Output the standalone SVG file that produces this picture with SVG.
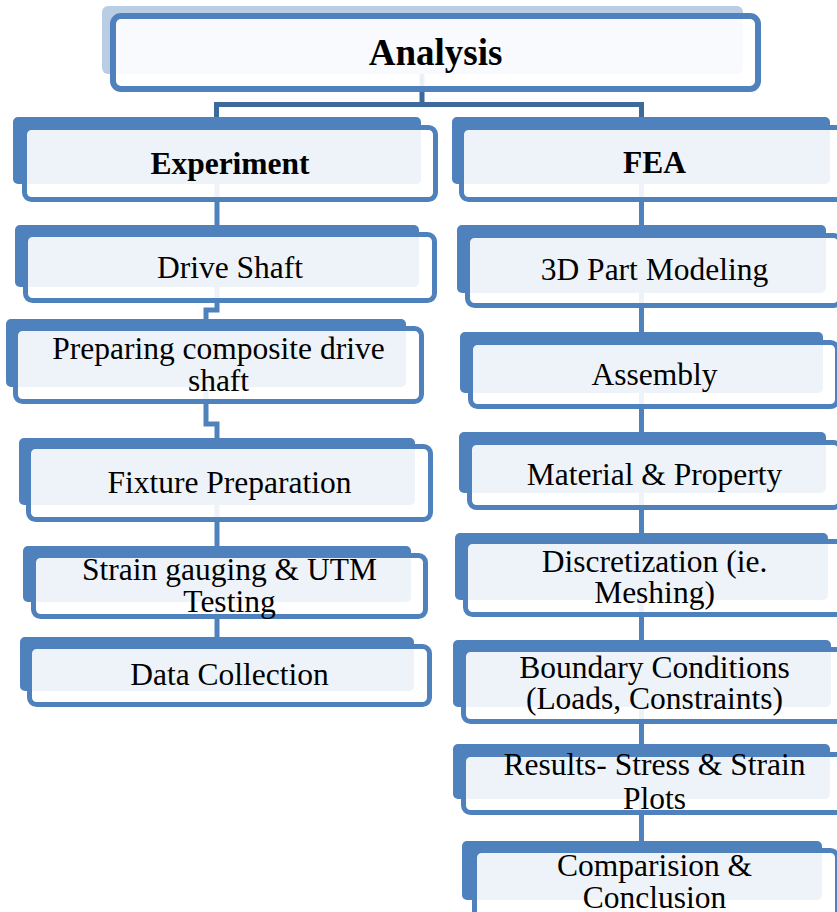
<svg xmlns="http://www.w3.org/2000/svg" width="837" height="912" viewBox="0 0 837 912">
<style>
.bk{fill:#4F81BD}
.bkl{fill:#4F81BD;fill-opacity:0.4}
.fr{fill:#FFFFFF;fill-opacity:0.9;stroke:#4F81BD;stroke-width:5}
.c{fill:none;stroke:#4F81BD;stroke-width:5}
.ct{fill:none;stroke:#3E6A9B;stroke-width:5}
text{font-family:"Liberation Serif","Times New Roman",serif;font-size:31.5px;fill:#000;text-anchor:middle}
.b{font-weight:bold}
</style>
<rect width="837" height="912" fill="#FFFFFF"/>
<g id="connectors">
<path class="ct" d="M422,74 V104.5 M216.5,117 V104.5 H641.5 V117"/>
<path class="c" d="M217,184 V225"/>
<path class="c" d="M217,287 V310 H206 V319"/>
<path class="c" d="M206,387 V424 H217 V438"/>
<path class="c" d="M217,505 V546"/>
<path class="c" d="M217,602 V637"/>
<path class="c" d="M641.5,184 V225"/>
<path class="c" d="M641.5,293 V332"/>
<path class="c" d="M641.5,393 V432"/>
<path class="c" d="M641.5,493 V533"/>
<path class="c" d="M641.5,600 V640"/>
<path class="c" d="M641.5,707 V744"/>
<path class="c" d="M641.5,799 V841"/>
</g>
<g id="analysis">
<rect class="bkl" x="102" y="6" width="641" height="68" rx="6"/>
<rect class="fr" x="113" y="16" width="645" height="73" rx="8" style="stroke-width:6"/>
<text class="b" x="435.5" y="65" style="font-size:37px">Analysis</text>
</g>
<g id="experiment">
<rect class="bk" x="13" y="117" width="408" height="67" rx="5"/>
<rect class="fr" x="24.5" y="127.5" width="411" height="72" rx="7"/>
<text class="b" x="230" y="174">Experiment</text>
</g>
<g id="drive-shaft">
<rect class="bk" x="15" y="225" width="404" height="62" rx="5"/>
<rect class="fr" x="25.5" y="234.5" width="409" height="66" rx="7"/>
<text x="230" y="278">Drive Shaft</text>
</g>
<g id="preparing">
<rect class="bk" x="6" y="319" width="400" height="68" rx="5"/>
<rect class="fr" x="15.5" y="328.5" width="406" height="73" rx="7"/>
<text x="218.5" y="359">Preparing composite drive</text>
<text x="218.5" y="391">shaft</text>
</g>
<g id="fixture">
<rect class="bk" x="19" y="438" width="396" height="67" rx="5"/>
<rect class="fr" x="28.5" y="446.5" width="402" height="73" rx="7"/>
<text x="229.5" y="493">Fixture Preparation</text>
</g>
<g id="strain">
<rect class="bk" x="23" y="546" width="388" height="56" rx="5"/>
<rect class="fr" x="33.5" y="555.5" width="392" height="61" rx="7"/>
<text x="229.5" y="580">Strain gauging &amp; UTM</text>
<text x="229.5" y="612">Testing</text>
</g>
<g id="data">
<rect class="bk" x="20" y="637" width="394" height="54" rx="5"/>
<rect class="fr" x="29.5" y="646.5" width="400" height="58" rx="7"/>
<text x="229.5" y="685">Data Collection</text>
</g>
<g id="fea">
<rect class="bk" x="452" y="117" width="378" height="67" rx="5"/>
<rect class="fr" x="461.5" y="127.5" width="386" height="72" rx="7"/>
<text class="b" x="654.5" y="173">FEA</text>
</g>
<g id="part-modeling">
<rect class="bk" x="457" y="225" width="369" height="68" rx="5"/>
<rect class="fr" x="467.5" y="235.5" width="373" height="70" rx="7"/>
<text x="654.5" y="280">3D Part Modeling</text>
</g>
<g id="assembly">
<rect class="bk" x="460" y="332" width="363" height="61" rx="5"/>
<rect class="fr" x="470.5" y="342.5" width="367" height="64" rx="7"/>
<text x="654.5" y="385">Assembly</text>
</g>
<g id="material">
<rect class="bk" x="459" y="432" width="367" height="61" rx="5"/>
<rect class="fr" x="469.5" y="442.5" width="371" height="65" rx="7"/>
<text x="654.5" y="485">Material &amp; Property</text>
</g>
<g id="discretization">
<rect class="bk" x="455" y="533" width="373" height="67" rx="5"/>
<rect class="fr" x="465.5" y="541.5" width="378" height="73" rx="7"/>
<text x="654.5" y="572">Discretization (ie.</text>
<text x="654.5" y="603">Meshing)</text>
</g>
<g id="boundary">
<rect class="bk" x="453" y="640" width="378" height="67" rx="5"/>
<rect class="fr" x="463.5" y="649.5" width="383" height="72" rx="7"/>
<text x="654.5" y="678">Boundary Conditions</text>
<text x="654.5" y="709">(Loads, Constraints)</text>
</g>
<g id="results">
<rect class="bk" x="453" y="744" width="377" height="55" rx="5"/>
<rect class="fr" x="463.5" y="754.5" width="382" height="58" rx="7"/>
<text x="654.5" y="775">Results- Stress &amp; Strain</text>
<text x="654.5" y="809">Plots</text>
</g>
<g id="comparision">
<rect class="bk" x="462" y="841" width="360" height="59" rx="5"/>
<rect class="fr" x="474.5" y="850.5" width="363" height="70" rx="7"/>
<text x="654.5" y="876">Comparision &amp;</text>
<text x="654.5" y="908">Conclusion</text>
</g>
</svg>
